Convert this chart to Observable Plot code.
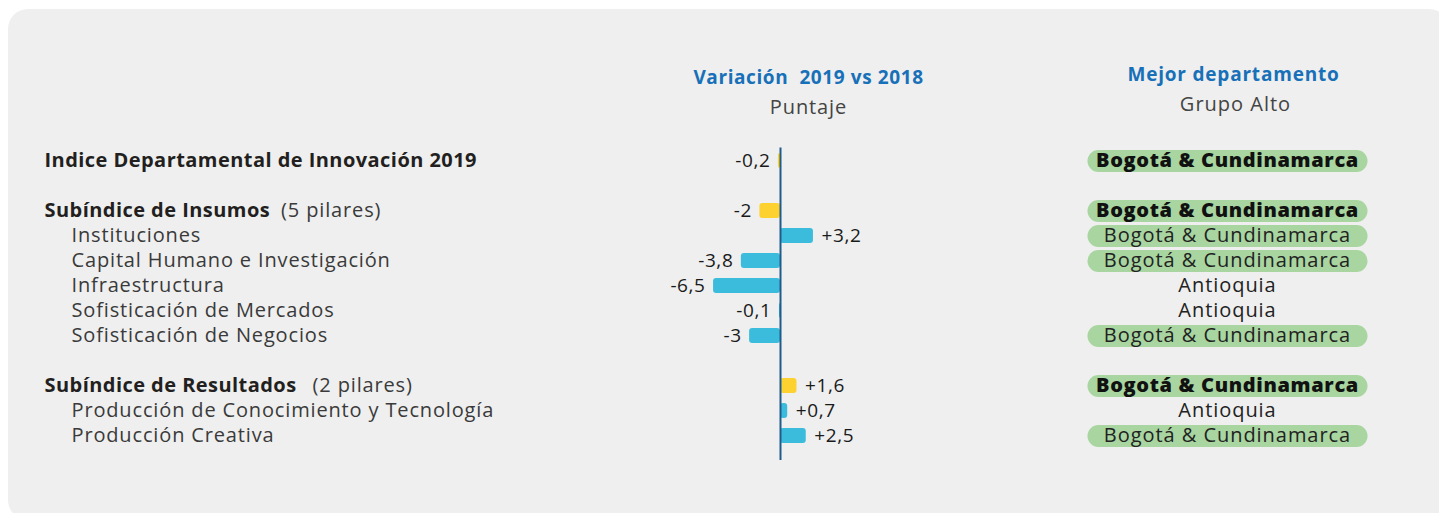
<!DOCTYPE html>
<html><head><meta charset="utf-8">
<script src="https://cdn.jsdelivr.net/npm/d3@7"></script>
<script src="https://cdn.jsdelivr.net/npm/@observablehq/plot@0.6"></script>
<style>
html,body{margin:0;padding:0;background:#fff;overflow:hidden;width:1439px;height:513px;}
#panel{position:absolute;left:8px;top:9px;width:1441px;height:511px;background:#eeefee;border-radius:20px;}
#chart{position:absolute;left:0;top:0;}
</style></head><body>
<div id="panel"></div><div id="chart"></div>
<script>
// ---- data ----
const labels = [
  "Indice Departamental de Innovación 2019",
  "Subíndice de Insumos",
  "Instituciones",
  "Capital Humano e Investigación",
  "Infraestructura",
  "Sofisticación de Mercados",
  "Sofisticación de Negocios",
  "Subíndice de Resultados",
  "Producción de Conocimiento y Tecnología",
  "Producción Creativa"
];
const levels = ["index","sub","pillar","pillar","pillar","pillar","pillar","sub","pillar","pillar"];
const suffixes = ["", "(5 pilares)", "", "", "", "", "", "(2 pilares)", "", ""];
const values = [-0.2, -2, 3.2, -3.8, -6.5, -0.1, -3, 1.6, 0.7, 2.5];
const best = [
  "Bogotá & Cundinamarca","Bogotá & Cundinamarca","Bogotá & Cundinamarca","Bogotá & Cundinamarca",
  "Antioquia","Antioquia","Bogotá & Cundinamarca","Bogotá & Cundinamarca","Antioquia","Bogotá & Cundinamarca"
];
const highlighted = "Bogotá & Cundinamarca";
const headerLeft = "Variación\u00a0 2019 vs 2018";
const subLeft = "Puntaje";
const headerRight = "Mejor departamento";
const subRight = "Grupo Alto";

// ---- build ----
const rows = labels.map((label, i) => ({label, level: levels[i], suffix: suffixes[i], value: values[i], best: best[i]}));
const yDomain = [];
rows.forEach(r => { if (r.level === "sub") yDomain.push(" ".repeat(yDomain.length + 1)); yDomain.push(r.label); });

const FONT = "'Open Sans', sans-serif";
const BLUE_TXT = "#1770b8", YELLOW = "#fdd130", CYAN = "#3bbcdc", GREEN = "#a8d5a0", AXIS = "#1f5c8c";
const fmt = v => (v > 0 ? "+" : "") + String(v).replace(".", ",");

const pill = {
  draw(ctx) {
    const w = 280, h = 22, r = h / 2;
    ctx.moveTo(-w/2 + r, -r);
    ctx.lineTo(w/2 - r, -r);
    ctx.arc(w/2 - r, 0, r, -Math.PI/2, Math.PI/2);
    ctx.lineTo(-w/2 + r, r);
    ctx.arc(-w/2 + r, 0, r, Math.PI/2, 3*Math.PI/2);
    ctx.closePath();
  }
};

const W = 1439, H = 513;
const chart = Plot.plot({
  width: W, height: H,
  marginLeft: 44, marginRight: 212, marginTop: 147.5, marginBottom: 53,
  style: {fontFamily: FONT, background: "transparent", overflow: "visible"},
  x: {domain: [-10, 10], range: [677, 883], axis: null},
  y: {type: "band", domain: yDomain, range: [147.5, 447.5], paddingInner: 0.4, paddingOuter: 0.2, axis: null},
  marks: [
    Plot.barX(rows.filter(d => d.level !== "pillar"), {y: "label", x: "value", fill: YELLOW, rx: 3}),
    Plot.barX(rows.filter(d => d.level === "pillar"), {y: "label", x: "value", fill: CYAN, rx: 3}),
    Plot.ruleX([0], {stroke: AXIS, strokeWidth: 2}),
    // text marks (order matters for the letter-spacing pass below)
    Plot.text(rows.filter(d => d.value < 0), {y: "label", x: "value", text: d => fmt(d.value), textAnchor: "end", dx: -8, fontSize: 19, fill: "#1a1a1a"}),
    Plot.text(rows.filter(d => d.value > 0), {y: "label", x: "value", text: d => fmt(d.value), textAnchor: "start", dx: 8, fontSize: 19, fill: "#1a1a1a"}),
    Plot.text(rows.filter(d => d.level !== "pillar"), {y: "label", text: "label", frameAnchor: "left", textAnchor: "start", fontSize: 20, fontWeight: 700, fill: "#231f20"}),
    Plot.text(rows.filter(d => d.level === "pillar"), {y: "label", text: "label", frameAnchor: "left", textAnchor: "start", dx: 27, fontSize: 20, fill: "#3a3a3a"}),
    Plot.text(rows.filter(d => d.level !== "pillar"), {y: "label", text: "best", frameAnchor: "right", textAnchor: "middle", fontSize: 20, fontWeight: 800, fill: "#111"}),
    Plot.text(rows.filter(d => d.level === "pillar"), {y: "label", text: "best", frameAnchor: "right", textAnchor: "middle", fontSize: 20, fill: "#222"}),
    Plot.text([headerLeft], {text: d => d, frameAnchor: "top-left", dx: 764, dy: -70.5, textAnchor: "middle", lineAnchor: "middle", fontSize: 19, fontWeight: 700, fill: BLUE_TXT}),
    Plot.text([subLeft], {text: d => d, frameAnchor: "top-left", dx: 764, dy: -40.5, textAnchor: "middle", lineAnchor: "middle", fontSize: 20, fill: "#444"}),
    Plot.text([headerRight], {text: d => d, frameAnchor: "top-right", dx: 6, dy: -73.5, textAnchor: "middle", lineAnchor: "middle", fontSize: 19, fontWeight: 700, fill: BLUE_TXT}),
    Plot.text([subRight], {text: d => d, frameAnchor: "top-right", dx: 8, dy: -43.5, textAnchor: "middle", lineAnchor: "middle", fontSize: 20, fill: "#444"}),
    Plot.dot(rows.filter(d => d.best === highlighted), {y: "label", frameAnchor: "right", symbol: pill, r: 5, fill: GREEN, stroke: "none"})
  ]
});
document.getElementById("chart").appendChild(chart);

// pills behind text: move dot group before first text group
const dotG = chart.querySelector('g[aria-label="dot"]');
const textGs = chart.querySelectorAll('g[aria-label="text"]');
dotG.parentNode.insertBefore(dotG, textGs[0]);

// letter spacing to mimic the wide geometric typeface of the original
const spacing = [0.6, 0.6, 0.45, 0.85, 0.65, 0.95, 0.6, 0.9, 0.8, 1.0];
textGs.forEach((g, i) => g.setAttribute("letter-spacing", spacing[i]));

// append the "(n pilares)" suffix in regular weight after the bold group labels
const groups = rows.filter(d => d.level !== "pillar");
d3.select(textGs[2]).selectAll("text").each(function(_, i) {
  const s = groups[i] && groups[i].suffix;
  if (s) d3.select(this).append("tspan")
    .attr("dx", groups[i].label.includes("Resultados") ? 16 : 11)
    .attr("font-weight", 400).attr("letter-spacing", 0.85).attr("fill", "#3a3a3a").text(s);
});
</script>
</body></html>
